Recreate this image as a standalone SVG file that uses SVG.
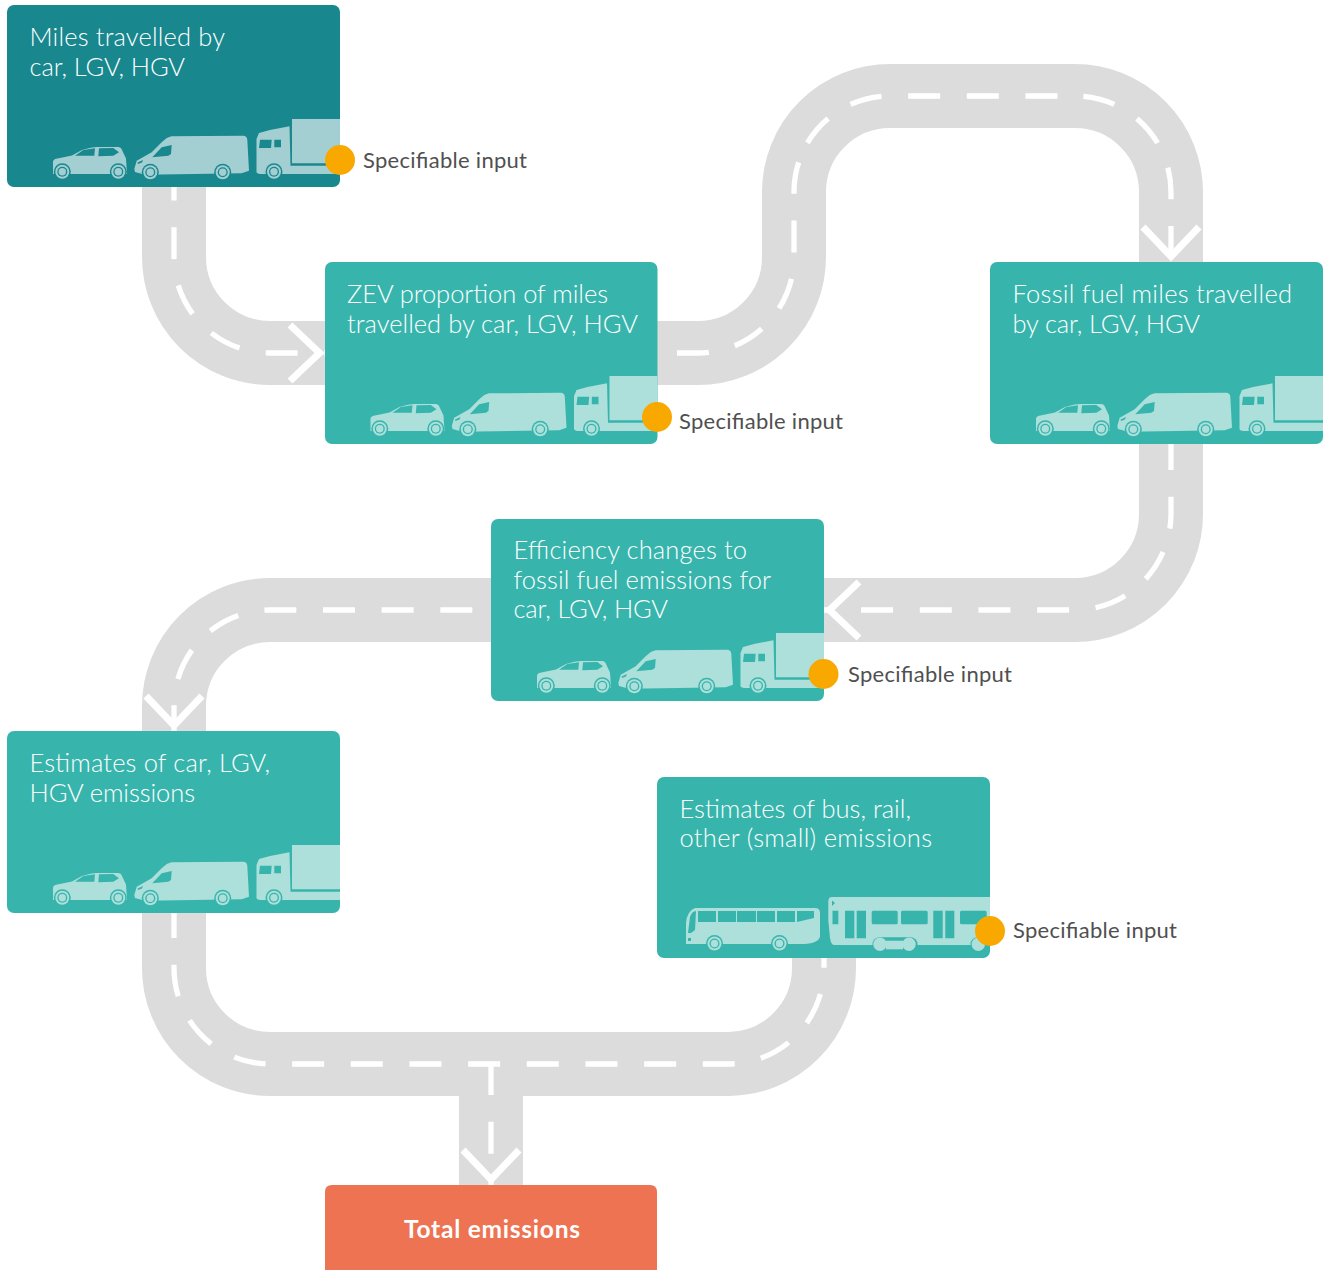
<svg xmlns="http://www.w3.org/2000/svg" width="1325" height="1270" viewBox="0 0 1325 1270">
<style>
.road{fill:none;stroke:#dcdcdc;stroke-width:64}
.dash{fill:none;stroke:#fff;stroke-width:5.3;stroke-dasharray:32 26.67}
.box{fill:#37b5ac}
.t{font-family:"Lato","Open Sans",sans-serif;font-weight:300;font-size:25.5px;fill:#fff}
.s{font-family:"Lato","Open Sans",sans-serif;font-weight:400;font-size:22px;fill:#505050}
.b{font-family:"Lato","Open Sans",sans-serif;font-weight:700;font-size:24.5px;fill:#fff;text-anchor:middle}
.dot{fill:#f9a800}
</style>
<defs>
<marker id="chev" markerUnits="userSpaceOnUse" viewBox="-44 -36 48 72" refX="0" refY="0" markerWidth="48" markerHeight="72" orient="auto">
<polyline points="-35,-28 -5.500,0 -35,28" fill="none" stroke="#fff" stroke-width="7"/>
</marker>
<g id="wheel"><circle r="8.500" fill="currentColor"/><circle r="7"/><circle r="5" fill="currentColor"/><circle r="3.700"/></g>
<g id="vehicles">
<path d="M53 172V161L55 159 72 155.500 82 150Q92 147 97 147H118Q121 147 122 150L126 158.500 127 174H53Z"/>
<path fill="currentColor" d="M75 155.700L83.300 150 95 148.300 94.300 155.700ZM99 148.300L113.300 148 119 152.300 113.300 155.700 98.300 156.300Z"/>
<use href="#wheel" x="62.300" y="171.700"/><use href="#wheel" x="118.300" y="171.700"/>
<path d="M134.300 169L136.700 160.700 151.700 152.300 161.700 142.300Q167 137 171.700 136.300L243.300 135.700Q247 136 247.300 139.700L249 170.700 241.700 173.300 145 174.700 135 172Z"/>
<path fill="currentColor" d="M152.300 157.300L161.700 147.300 171.700 145 171 154 168.300 155.700ZM137.500 162.500L143 160 142 162.500 138 164Z"/>
<use href="#wheel" x="150.300" y="172.300"/><use href="#wheel" x="222.700" y="172.300"/>
<path d="M256.500 139L259 133 270 130 289.500 126.300 290.500 165.700H340V174H262Q257 174 256.500 172Z"/>
<path d="M292 119H340V163.300H292Z"/>
<path fill="currentColor" d="M260 139.700H271.700L271 148H259ZM274.300 139.700H281V147.300H274.300Z"/>
<use href="#wheel" x="274" y="171.700"/>
</g>
<g id="pt">
<path d="M686 942V923Q687 911 695 908H815Q820 908 820 913V937Q818 943 805 944H686Z"/>
<path fill="currentColor" d="M698 911H716V922H698ZM718 911H736V922H718ZM737 911H756V922H737ZM757 911H775V922H757ZM777 911H795V922H777ZM797 911H814V918L797 922ZM688 933L690 917Q692 911 696 911L695 930 691 933ZM688 938H691V941H688Z"/>
<use href="#wheel" x="714.500" y="943.500"/><use href="#wheel" x="779.500" y="943.500"/>
<path d="M828.300 901Q828.500 897 832 897H990V945H834Q831 945 830 938L828.300 920Z"/>
<path fill="currentColor" d="M832 900.500L835 903 832 906ZM832.500 910.700H838.300V924.300H832.500ZM845 910.700H854.300V938.300H845ZM856.700 910.700H866V938.300H856.700ZM873.200 910.700H896.200Q897.700 910.700 897.700 912.200V922.800Q897.700 924.300 896.200 924.300H873.200Q871.700 924.300 871.700 922.800V912.200Q871.700 910.700 873.200 910.700ZM902.500 910.700H926.200Q927.700 910.700 927.700 912.200V922.800Q927.700 924.300 926.200 924.300H902.500Q901 924.300 901 922.800V912.200Q901 910.700 902.500 910.700ZM933.300 910.700H942.700V938.300H933.300ZM945.300 910.700H954.300V938.300H945.300ZM961.500 910.700H985.200Q986.700 910.700 986.700 912.200V922.800Q986.700 924.300 985.200 924.300H961.500Q960 924.300 960 922.800V912.200Q960 910.700 961.500 910.700Z"/>
<rect x="872.500" y="937.300" width="45" height="14" rx="7" fill="currentColor"/>
<path d="M977.500 937.300H990V951.300H977.500A7 7 0 0 1 977.500 937.300Z" fill="currentColor"/>
<rect x="886" y="940.700" width="17" height="8.600"/>
<circle cx="880" cy="944.300" r="6.700"/><circle cx="909" cy="944.300" r="6.700"/><circle cx="978.300" cy="944.300" r="6.700"/>
</g>
</defs>
<g id="connectors">
<path class="road" d="M174 187V257A96 96 0 0 0 270 353H325"/>
<path class="road" d="M657 353H698A96 96 0 0 0 794 257V192A96 96 0 0 1 890 96H1075A96 96 0 0 1 1171 192V262"/>
<path class="road" d="M1171 444V514A96 96 0 0 1 1075 610H824"/>
<path class="road" d="M491 610H270A96 96 0 0 0 174 706V731"/>
<path class="road" d="M174 913V968A96 96 0 0 0 270 1064H728A96 96 0 0 0 824 968V958"/>
<path class="road" d="M491 1064V1185"/>
<path class="dash" stroke-dashoffset="18.500" marker-end="url(#chev)" d="M174 187V257A96 96 0 0 0 270 353H325"/>
<path class="dash" stroke-dashoffset="38.670" d="M657 353H698A96 96 0 0 0 794 257V192A96 96 0 0 1 803.500 150.200"/>
<path class="dash" stroke-dashoffset="343.670" d="M803.500 150.200A96 96 0 0 1 890 96H1072"/>
<path class="dash" stroke-dashoffset="47.170" marker-end="url(#chev)" d="M1072 96H1075A96 96 0 0 1 1171 192V262"/>
<path class="dash" stroke-dashoffset="6" d="M1171 444V514A96 96 0 0 1 1166.900 541.600"/>
<path class="dash" stroke-dashoffset="47.500" marker-end="url(#chev)" d="M1166.900 541.600A96 96 0 0 1 1075 610H824"/>
<path class="dash" stroke-dashoffset="40" marker-end="url(#chev)" d="M491 610H270A96 96 0 0 0 174 706V731"/>
<path class="dash" stroke-dashoffset="7" d="M174 913V968A96 96 0 0 0 270 1064H728A96 96 0 0 0 824 968V958"/>
<path class="dash" stroke-dashoffset="1" marker-end="url(#chev)" d="M491 1064V1185"/>
</g>
<g id="node-miles" color="#18878e" fill="#a3cfd2">
<rect x="7" y="5" width="333" height="182" rx="7" fill="#18878e"/>
<use href="#vehicles"/>
<text class="t" x="29.500" y="46" textLength="195.500">Miles travelled by</text>
<text class="t" x="29.500" y="75.500" textLength="155.500">car, LGV, HGV</text>
<circle class="dot" cx="340" cy="160" r="15"/>
<text class="s" x="363" y="168" textLength="164">Specifiable input</text>
</g>
<g id="node-zev" color="#37b5ac" fill="#addfdb">
<rect class="box" x="325" y="262" width="332.500" height="182" rx="7"/>
<use href="#vehicles" x="317.500" y="257"/>
<text class="t" x="347" y="303" textLength="261">ZEV proportion of miles</text>
<text class="t" x="347" y="332.500" textLength="291">travelled by car, LGV, HGV</text>
<circle class="dot" cx="657" cy="417" r="15"/>
<text class="s" x="679" y="429" textLength="164">Specifiable input</text>
</g>
<g id="node-fossil" color="#37b5ac" fill="#addfdb">
<rect class="box" x="990" y="262" width="333" height="182" rx="7"/>
<use href="#vehicles" x="983" y="257"/>
<text class="t" x="1012.500" y="303" textLength="279.500">Fossil fuel miles travelled</text>
<text class="t" x="1012.500" y="332.500" textLength="187.500">by car, LGV, HGV</text>
</g>
<g id="node-efficiency" color="#37b5ac" fill="#addfdb">
<rect class="box" x="491" y="519" width="333" height="182" rx="7"/>
<use href="#vehicles" x="484" y="514"/>
<text class="t" x="513.500" y="559" textLength="233.500">Efficiency changes to</text>
<text class="t" x="513.500" y="588.500" textLength="257.500">fossil fuel emissions for</text>
<text class="t" x="513.500" y="617.500" textLength="154.500">car, LGV, HGV</text>
<circle class="dot" cx="823.500" cy="674" r="15"/>
<text class="s" x="848" y="682" textLength="164">Specifiable input</text>
</g>
<g id="node-estimates" color="#37b5ac" fill="#addfdb">
<rect class="box" x="7" y="731" width="333" height="182" rx="7"/>
<use href="#vehicles" x="0" y="726"/>
<text class="t" x="29.500" y="772" textLength="240.500">Estimates of car, LGV,</text>
<text class="t" x="29.500" y="801.500" textLength="165.500">HGV emissions</text>
</g>
<g id="node-bus" color="#37b5ac" fill="#addfdb">
<rect class="box" x="657" y="777" width="333" height="181" rx="7"/>
<use href="#pt"/>
<text class="t" x="679.500" y="818" textLength="231.500">Estimates of bus, rail,</text>
<text class="t" x="679.500" y="847" textLength="252.500">other (small) emissions</text>
<circle class="dot" cx="990" cy="931" r="15"/>
<text class="s" x="1013" y="938" textLength="164">Specifiable input</text>
</g>
<g id="node-total">
<path d="M325 1270V1192Q325 1185 332 1185H650Q657 1185 657 1192V1270Z" fill="#ee7352"/>
<text class="b" x="492" y="1238" textLength="176">Total emissions</text>
</g>
</svg>
